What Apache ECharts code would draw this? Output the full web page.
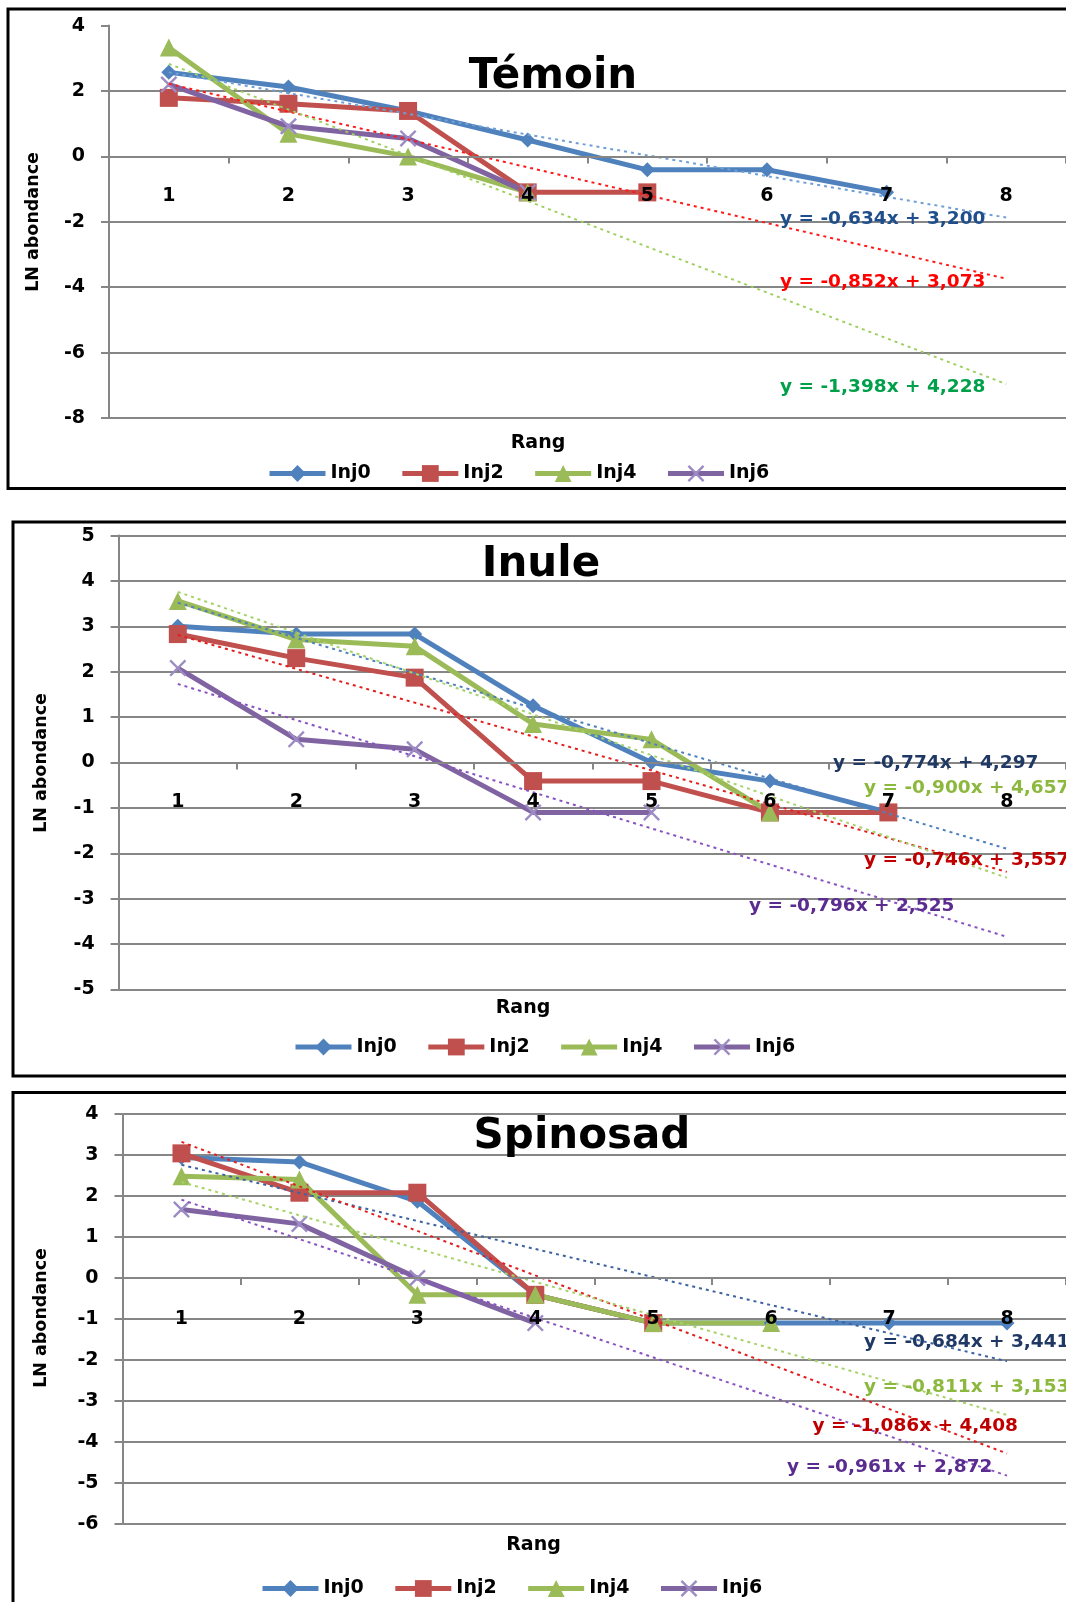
<!DOCTYPE html>
<html>
<head>
<meta charset="utf-8">
<script src="https://cdn.jsdelivr.net/npm/echarts@6/dist/echarts.min.js"></script>
<style>
  html, body { margin: 0; padding: 0; background: #fff; }
  #main { width: 1066px; height: 1602px; }
</style>
</head>
<body>
<div id="main"></div>
<script>
// categories (Rang)
var categories = ['1', '2', '3', '4', '5', '6', '7', '8'];
var seriesNames = ['Inj0', 'Inj2', 'Inj4', 'Inj6'];

// Témoin
var temoinInj0 = [2.57, 2.12, 1.39, 0.50, -0.41, -0.41, -1.10];
var temoinInj2 = [1.79, 1.61, 1.39, -1.10, -1.10];
var temoinInj4 = [3.33, 0.69, 0.00, -1.10];
var temoinInj6 = [2.20, 0.92, 0.55, -1.10];
// trend lines: value at rang 1 and rang 8
var temoinTrendInj0 = [2.57, -1.87];
var temoinTrendInj2 = [2.22, -3.74];
var temoinTrendInj4 = [2.83, -6.96];
var temoinEquations = ['y = -0,634x + 3,200', 'y = -0,852x + 3,073', 'y = -1,398x + 4,228'];

// Inule
var inuleInj0 = [3.00, 2.83, 2.83, 1.25, 0.00, -0.41, -1.10];
var inuleInj2 = [2.83, 2.30, 1.87, -0.41, -0.41, -1.10, -1.10];
var inuleInj4 = [3.56, 2.71, 2.56, 0.85, 0.51, -1.10];
var inuleInj6 = [2.08, 0.51, 0.29, -1.10, -1.10];
var inuleTrendInj0 = [3.52, -1.90];
var inuleTrendInj2 = [2.81, -2.41];
var inuleTrendInj4 = [3.76, -2.54];
var inuleTrendInj6 = [1.73, -3.84];
var inuleEquations = ['y = -0,774x + 4,297', 'y = -0,746x + 3,557', 'y = -0,900x + 4,657', 'y = -0,796x + 2,525'];

// Spinosad
var spinoInj0 = [2.94, 2.83, 1.87, -0.41, -1.10, -1.10, -1.10, -1.10];
var spinoInj2 = [3.04, 2.08, 2.08, -0.41, -1.10];
var spinoInj4 = [2.48, 2.40, -0.41, -0.41, -1.10, -1.10];
var spinoInj6 = [1.67, 1.32, 0.00, -1.10];
var spinoTrendInj0 = [2.76, -2.03];
var spinoTrendInj2 = [3.32, -4.28];
var spinoTrendInj4 = [2.34, -3.34];
var spinoTrendInj6 = [1.91, -4.82];
var spinoEquations = ['y = -0,684x + 3,441', 'y = -1,086x + 4,408', 'y = -0,811x + 3,153', 'y = -0,961x + 2,872'];

var titles = ['Témoin', 'Inule', 'Spinosad'];
var yRanges = [[-8, 4, 2], [-5, 5, 1], [-6, 4, 1]];

var FONT = 'DejaVu Sans';
var GRAY = '#868686';
var colors = { Inj0: '#4F81BD', Inj2: '#C0504D', Inj4: '#9BBB59', Inj6: '#8064A2' };
var symbols = {
  Inj0: ['diamond', 15],
  Inj2: ['rect', 18],
  Inj4: ['triangle', 18],
  Inj6: ['path://M1,0 L5,4 L9,0 L10,1 L6,5 L10,9 L9,10 L5,6 L1,10 L0,9 L4,5 L0,1 Z', 17]
};

// layout of the three panels
var grids = [
  { left: 109, top: 25.6, width: 964, height: 392.4 },
  { left: 118.6, top: 535.6, width: 960, height: 453.8 },
  { left: 122.5, top: 1114, width: 955, height: 410 }
];
var labelMargins = [30, 30, 32];

function dataLine(gi, name, values) {
  return {
    name: name, type: 'line', xAxisIndex: gi, yAxisIndex: gi,
    data: values, z: 3,
    symbol: symbols[name][0], symbolSize: symbols[name][1],
    lineStyle: { color: colors[name], width: 5 },
    itemStyle: { color: name === 'Inj6' ? '#9D8CC4' : colors[name] },
    emphasis: { disabled: true }
  };
}

function trendLine(gi, name, ends, color) {
  return {
    name: 'trend ' + gi + ' ' + name, type: 'line', xAxisIndex: gi, yAxisIndex: gi,
    data: [[categories[0], ends[0]], [categories[7], ends[1]]],
    symbol: 'none', z: 4, silent: true,
    lineStyle: { color: color, width: 2, type: [3, 4] }
  };
}

var series = [
  dataLine(0, 'Inj0', temoinInj0), dataLine(0, 'Inj2', temoinInj2),
  dataLine(0, 'Inj4', temoinInj4), dataLine(0, 'Inj6', temoinInj6),
  trendLine(0, 'Inj0', temoinTrendInj0, '#6F9FD6'),
  trendLine(0, 'Inj2', temoinTrendInj2, '#FF1A1A'),
  trendLine(0, 'Inj4', temoinTrendInj4, '#9CCF5C'),

  dataLine(1, 'Inj0', inuleInj0), dataLine(1, 'Inj2', inuleInj2),
  dataLine(1, 'Inj4', inuleInj4), dataLine(1, 'Inj6', inuleInj6),
  trendLine(1, 'Inj0', inuleTrendInj0, '#4F81BD'),
  trendLine(1, 'Inj2', inuleTrendInj2, '#E41E1E'),
  trendLine(1, 'Inj4', inuleTrendInj4, '#A6D26A'),
  trendLine(1, 'Inj6', inuleTrendInj6, '#8A52C0'),

  dataLine(2, 'Inj0', spinoInj0), dataLine(2, 'Inj2', spinoInj2),
  dataLine(2, 'Inj4', spinoInj4), dataLine(2, 'Inj6', spinoInj6),
  trendLine(2, 'Inj0', spinoTrendInj0, '#3C64A0'),
  trendLine(2, 'Inj2', spinoTrendInj2, '#E41E1E'),
  trendLine(2, 'Inj4', spinoTrendInj4, '#A6D26A'),
  trendLine(2, 'Inj6', spinoTrendInj6, '#8A52C0')
];

var xAxes = [], yAxes = [], legends = [];
var legendPos = [[262, 459], [288, 1032.5], [255, 1574]];
for (var i = 0; i < 3; i++) {
  // move the category axis (line, ticks, labels) up to the y = 0 level
  var zeroOffset = grids[i].height * (0 - yRanges[i][0]) / (yRanges[i][1] - yRanges[i][0]);
  xAxes.push({
    gridIndex: i, type: 'category', data: categories, boundaryGap: true,
    offset: -zeroOffset, z: 5,
    axisLine: { onZero: false, lineStyle: { color: GRAY, width: 2 } },
    axisTick: { show: true, inside: false, length: 7, lineStyle: { color: GRAY, width: 2 } },
    axisLabel: { margin: labelMargins[i], fontSize: 19, fontWeight: 'bold', fontFamily: FONT, color: '#000' },
    splitLine: { show: false }
  });
  yAxes.push({
    gridIndex: i, type: 'value', min: yRanges[i][0], max: yRanges[i][1], interval: yRanges[i][2],
    axisLine: { show: true, lineStyle: { color: GRAY, width: 2 } },
    axisTick: { show: true, length: 8, lineStyle: { color: GRAY, width: 2 } },
    axisLabel: { margin: 24, fontSize: 19, fontWeight: 'bold', fontFamily: FONT, color: '#000' },
    splitLine: { show: true, showMaxLine: i !== 0, lineStyle: { color: GRAY, width: 2 } }
  });
  legends.push({
    data: seriesNames, left: legendPos[i][0], top: legendPos[i][1],
    itemWidth: 56, itemHeight: 21, itemGap: 29, selectedMode: false,
    lineStyle: { width: 5 },
    textStyle: { fontSize: 19, fontWeight: 'bold', fontFamily: FONT, color: '#000' }
  });
}

function txt(text, x, y, size, color, align, rot) {
  return {
    type: 'text', x: x, y: y, z: 20, rotation: rot || 0, silent: true,
    style: { text: text, fill: color, fontSize: size, fontWeight: 'bold', fontFamily: FONT,
             align: align || 'center', verticalAlign: 'middle' }
  };
}
function border(x, y, w, h) {
  return { type: 'rect', z: 30, silent: true, shape: { x: x, y: y, width: w, height: h },
           style: { fill: null, stroke: '#000', lineWidth: 3 } };
}

var graphics = [
  border(8, 9, 1100, 479.5),
  border(13, 522, 1100, 554),
  border(13, 1092.6, 1100, 600),

  txt(titles[0], 553, 77, 42, '#000'),
  txt(titles[1], 541, 565, 42, '#000'),
  txt(titles[2], 582, 1137.5, 42, '#000'),

  txt('Rang', 538, 443, 19, '#000'),
  txt('Rang', 523, 1008, 19, '#000'),
  txt('Rang', 533.5, 1545, 19, '#000'),

  txt('LN abondance', 33, 222, 17.5, '#000', 'center', Math.PI / 2),
  txt('LN abondance', 41, 763, 17.5, '#000', 'center', Math.PI / 2),
  txt('LN abondance', 41, 1318, 17.5, '#000', 'center', Math.PI / 2),

  txt(temoinEquations[0], 780, 219, 18.5, '#1F4E8C', 'left'),
  txt(temoinEquations[1], 780, 282, 18.5, '#FF0000', 'left'),
  txt(temoinEquations[2], 780, 387, 18.5, '#00A04A', 'left'),

  txt(inuleEquations[0], 833, 763.5, 18.5, '#1F3864', 'left'),
  txt(inuleEquations[2], 864, 788, 18.5, '#8DB83E', 'left'),
  txt(inuleEquations[1], 864, 860, 18.5, '#C00000', 'left'),
  txt(inuleEquations[3], 749, 906.6, 18.5, '#5B2C8F', 'left'),

  txt(spinoEquations[0], 864, 1342, 18.5, '#1F3864', 'left'),
  txt(spinoEquations[2], 864, 1387, 18.5, '#8DB83E', 'left'),
  txt(spinoEquations[1], 812.5, 1426, 18.5, '#C00000', 'left'),
  txt(spinoEquations[3], 787, 1467, 18.5, '#5B2C8F', 'left')
];

var myChart = echarts.init(document.getElementById('main'));
myChart.setOption({
  animation: false,
  backgroundColor: '#fff',
  grid: grids,
  xAxis: xAxes,
  yAxis: yAxes,
  legend: legends,
  series: series,
  graphic: graphics
});
</script>
</body>
</html>
